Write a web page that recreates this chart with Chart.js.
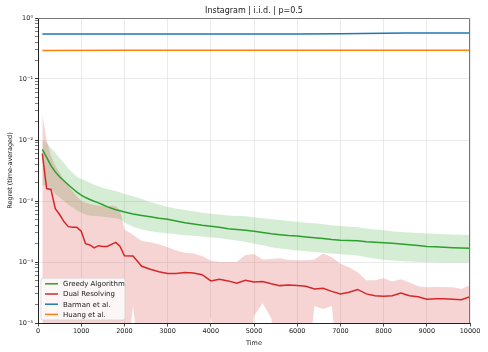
<!DOCTYPE html>
<html>
<head>
<meta charset="utf-8">
<script src="https://cdn.jsdelivr.net/npm/chart.js@4.4.1/dist/chart.umd.min.js"></script>
<style>
  html, body { margin: 0; padding: 0; background: #fff; }
  #wrap { width: 488px; height: 352px; position: relative; }
</style>
</head>
<body>
<div id="wrap"><canvas id="chart"></canvas></div>
<script>
// time steps (shared by greedy / dual series)
const times = [100, 200, 300, 400, 500, 600, 700, 800, 900, 1000,
  1100, 1200, 1300, 1400, 1500, 1600, 1700, 1800, 1900, 2000,
  2200, 2400, 2600, 2800, 3000, 3200, 3400, 3600, 3800, 4000,
  4200, 4400, 4600, 4800, 5000, 5200, 5400, 5600, 5800, 6000,
  6200, 6400, 6600, 6800, 7000, 7200, 7400, 7600, 7800, 8000,
  8200, 8400, 8600, 8800, 9000, 9200, 9400, 9600, 9800, 10000];

const greedy = [7.0e-3, 5.2e-3, 3.8e-3, 3.0e-3, 2.5e-3, 2.15e-3, 1.85e-3, 1.6e-3, 1.4e-3, 1.25e-3,
  1.14e-3, 1.06e-3, 9.9e-4, 9.3e-4, 8.7e-4, 8.1e-4, 7.6e-4, 7.2e-4, 6.9e-4, 6.6e-4,
  6.1e-4, 5.8e-4, 5.5e-4, 5.2e-4, 5.0e-4, 4.7e-4, 4.4e-4, 4.2e-4, 4.0e-4, 3.85e-4,
  3.7e-4, 3.5e-4, 3.4e-4, 3.3e-4, 3.2e-4, 3.05e-4, 2.9e-4, 2.8e-4, 2.72e-4, 2.67e-4,
  2.58e-4, 2.5e-4, 2.42e-4, 2.34e-4, 2.28e-4, 2.25e-4, 2.22e-4, 2.15e-4, 2.1e-4, 2.06e-4,
  2.02e-4, 1.98e-4, 1.92e-4, 1.86e-4, 1.8e-4, 1.77e-4, 1.74e-4, 1.72e-4, 1.7e-4, 1.68e-4];
const greedyHi = [1.0e-2, 9.0e-3, 7.3e-3, 6.2e-3, 5.0e-3, 4.2e-3, 3.4e-3, 2.9e-3, 2.5e-3, 2.3e-3,
  2.15e-3, 2.0e-3, 1.85e-3, 1.75e-3, 1.65e-3, 1.58e-3, 1.52e-3, 1.46e-3, 1.38e-3, 1.3e-3,
  1.2e-3, 1.08e-3, 9.6e-4, 8.8e-4, 8.0e-4, 7.5e-4, 7.1e-4, 6.8e-4, 6.4e-4, 6.2e-4,
  6.0e-4, 5.8e-4, 5.7e-4, 5.6e-4, 5.4e-4, 5.2e-4, 5.0e-4, 4.9e-4, 4.7e-4, 4.55e-4,
  4.4e-4, 4.3e-4, 4.15e-4, 4.0e-4, 3.9e-4, 3.8e-4, 3.7e-4, 3.55e-4, 3.4e-4, 3.3e-4,
  3.2e-4, 3.1e-4, 3.05e-4, 2.98e-4, 2.93e-4, 2.9e-4, 2.85e-4, 2.82e-4, 2.8e-4, 2.78e-4];
const greedyLo = [1.8e-3, 1.8e-3, 1.6e-3, 1.3e-3, 1.15e-3, 1.0e-3, 8.8e-4, 7.8e-4, 7.0e-4, 6.4e-4,
  6.0e-4, 5.8e-4, 5.7e-4, 5.6e-4, 5.5e-4, 5.4e-4, 5.3e-4, 5.2e-4, 5.0e-4, 4.5e-4,
  3.8e-4, 3.4e-4, 3.2e-4, 3.05e-4, 2.95e-4, 2.85e-4, 2.75e-4, 2.7e-4, 2.62e-4, 2.55e-4,
  2.45e-4, 2.35e-4, 2.25e-4, 2.15e-4, 2.0e-4, 1.88e-4, 1.75e-4, 1.67e-4, 1.6e-4, 1.55e-4,
  1.5e-4, 1.46e-4, 1.42e-4, 1.38e-4, 1.34e-4, 1.31e-4, 1.28e-4, 1.2e-4, 1.13e-4, 1.09e-4,
  1.06e-4, 1.04e-4, 1.02e-4, 1.0e-4, 9.9e-5, 9.9e-5, 9.8e-5, 9.8e-5, 9.8e-5, 9.8e-5];

const dual = [6.0e-3, 1.6e-3, 1.55e-3, 7.5e-4, 6.0e-4, 4.6e-4, 3.8e-4, 3.7e-4, 3.7e-4, 3.2e-4,
  2.0e-4, 1.9e-4, 1.7e-4, 1.85e-4, 1.8e-4, 1.8e-4, 1.95e-4, 2.1e-4, 1.8e-4, 1.26e-4,
  1.25e-4, 8.5e-5, 7.6e-5, 6.9e-5, 6.5e-5, 6.5e-5, 6.7e-5, 6.6e-5, 6.2e-5, 4.9e-5,
  5.2e-5, 4.9e-5, 4.5e-5, 5.0e-5, 4.7e-5, 4.8e-5, 4.4e-5, 4.1e-5, 4.2e-5, 4.1e-5,
  4.0e-5, 3.6e-5, 3.7e-5, 3.3e-5, 3.0e-5, 3.2e-5, 3.55e-5, 3.0e-5, 2.8e-5, 2.75e-5,
  2.8e-5, 3.1e-5, 2.8e-5, 2.7e-5, 2.45e-5, 2.5e-5, 2.5e-5, 2.45e-5, 2.4e-5, 2.7e-5];
const dualHi = [2.6e-2, 1.0e-2, 5.5e-3, 3.8e-3, 2.9e-3, 2.2e-3, 1.8e-3, 1.45e-3, 1.2e-3, 1.0e-3,
  9.4e-4, 9.0e-4, 8.6e-4, 8.4e-4, 8.2e-4, 8.0e-4, 8.4e-4, 8.2e-4, 7.0e-4, 3.4e-4,
  2.8e-4, 2.2e-4, 2.1e-4, 1.95e-4, 1.75e-4, 1.55e-4, 1.42e-4, 1.38e-4, 1.25e-4, 1.05e-4,
  1.0e-4, 1.0e-4, 1.0e-4, 1.3e-4, 1.35e-4, 1.1e-4, 1.12e-4, 1.15e-4, 1.08e-4, 1.07e-4,
  1.07e-4, 1.1e-4, 1.38e-4, 1.2e-4, 9.4e-5, 8.2e-5, 6.8e-5, 5.0e-5, 5.0e-5, 5.4e-5,
  4.8e-5, 5.2e-5, 4.6e-5, 4.0e-5, 3.85e-5, 3.9e-5, 3.9e-5, 3.85e-5, 3.6e-5, 4.2e-5];
// lower edge mostly falls below the axis (1e-6 = off the plot)
const dualLo = [1e-6, 1e-6, 1e-6, 1e-6, 1e-6, 1e-6, 1e-6, 1e-6, 1e-6, 1e-6,
  1e-6, 1e-6, 1e-6, 1e-6, 1e-6, 1e-6, 1e-6, 1e-6, 1e-6, 1e-6,
  1.9e-5, 1e-6, 1e-6, 1e-6, 1e-6, 1e-6, 1e-6, 1e-6, 1e-6, 1.3e-5,
  1e-6, 1e-6, 1e-6, 1e-6, 1.3e-5, 2.1e-5, 1.2e-5, 1e-6, 1e-6, 1e-6,
  1e-6, 1.9e-5, 1.7e-5, 1.9e-5, 1e-6, 1e-6, 1e-6, 1e-6, 1e-6, 1e-6,
  1e-6, 1e-6, 1e-6, 1e-6, 1e-6, 1e-6, 1e-6, 1e-6, 1e-6, 1e-6];

const barmanTimes = [100, 2000, 4000, 6000, 7000, 8000, 8500, 10000];
const barman = [0.545, 0.548, 0.547, 0.547, 0.55, 0.56, 0.568, 0.57];
const huangTimes = [100, 2000, 4000, 6000, 8000, 10000];
const huang = [0.292, 0.297, 0.296, 0.296, 0.296, 0.296];

const xTicks = [0, 1000, 2000, 3000, 4000, 5000, 6000, 7000, 8000, 9000, 10000];
const yMajorTicks = [1e-5, 1e-4, 1e-3, 1e-2, 1e-1, 1];
const titleText = 'Instagram | i.i.d. | p=0.5';

const pts = (xs, ys) => xs.map((x, i) => ({ x: x, y: ys[i] }));

const SUP = { '-': '\u207B', '0': '\u2070', '1': '\u00B9', '2': '\u00B2', '3': '\u00B3', '4': '\u2074', '5': '\u2075' };
const powLabel = v => '10' + String(Math.round(Math.log10(v))).split('').map(c => SUP[c]).join('');

const FONT = 'DejaVu Sans';
const TXT = '#1a1a1a';

// title centred over the plot area (matplotlib style)
const plotTitle = {
  id: 'plotTitle',
  afterDraw(chart) {
    const { ctx, chartArea: a } = chart;
    ctx.save();
    ctx.font = `8px "${FONT}"`;
    ctx.fillStyle = TXT;
    ctx.textAlign = 'center';
    ctx.textBaseline = 'middle';
    ctx.fillText(titleText, (a.left + a.right) / 2, a.top - 7);
    ctx.restore();
  }
};

// legend in the lower-left corner of the plot area
const legendBox = {
  id: 'legendBox',
  afterDraw(chart) {
    const { ctx, chartArea } = chart;
    const items = chart.data.datasets.filter(d => d.inLegend);
    const w = 84, rowH = 10.2, h = 42;
    const x0 = chartArea.left + 3, y0 = chartArea.bottom - 3 - h;
    ctx.save();
    ctx.beginPath();
    ctx.roundRect(x0, y0, w, h, 2);
    ctx.fillStyle = 'rgba(255,255,255,0.8)';
    ctx.fill();
    ctx.strokeStyle = '#d0d0d0';
    ctx.lineWidth = 0.8;
    ctx.stroke();
    ctx.font = `7px "${FONT}"`;
    ctx.textBaseline = 'middle';
    items.forEach((d, i) => {
      const y = y0 + 5.8 + i * rowH;
      ctx.strokeStyle = d.borderColor;
      ctx.lineWidth = 1.5;
      ctx.beginPath();
      ctx.moveTo(x0 + 4, y);
      ctx.lineTo(x0 + 17, y);
      ctx.stroke();
      ctx.fillStyle = TXT;
      ctx.fillText(d.label, x0 + 22, y + 0.5);
    });
    ctx.restore();
  }
};

// top and right spines
const frame = {
  id: 'frame',
  afterDraw(chart) {
    const { ctx, chartArea: a } = chart;
    ctx.save();
    ctx.strokeStyle = '#777';
    ctx.lineWidth = 1;
    ctx.beginPath();
    ctx.moveTo(a.left, a.top + 0.5);
    ctx.lineTo(a.right - 0.5, a.top + 0.5);
    ctx.lineTo(a.right - 0.5, a.bottom);
    ctx.stroke();
    ctx.restore();
  }
};

const band = (data, color, order) => ({
  data: data, borderWidth: 0, pointRadius: 0, backgroundColor: color, order: order
});
const line = (label, data, color, order) => ({
  label: label, data: data, borderColor: color, backgroundColor: color,
  borderWidth: 1.5, pointRadius: 0, fill: false, order: order, inLegend: true
});

new Chart(document.getElementById('chart'), {
  type: 'line',
  data: {
    datasets: [
      Object.assign(band(pts(times, greedyHi), 'rgba(44,160,44,0.2)', 11), { fill: '+1' }),
      Object.assign(band(pts(times, greedyLo), 'transparent', 11), { fill: false }),
      Object.assign(band(pts(times, dualHi), 'rgba(214,39,40,0.2)', 10), { fill: '+1' }),
      Object.assign(band(pts(times, dualLo), 'transparent', 10), { fill: false }),
      line('Greedy Algorithm', pts(times, greedy), '#2ca02c', 4),
      line('Dual Resolving', pts(times, dual), '#d62728', 3),
      line('Barman et al.', pts(barmanTimes, barman), '#1f77b4', 2),
      line('Huang et al.', pts(huangTimes, huang), '#ff7f0e', 1)
    ]
  },
  options: {
    responsive: true,
    maintainAspectRatio: false,
    animation: false,
    layout: { padding: { left: 0, right: 18, top: 18, bottom: 0 } },
    elements: { line: { tension: 0 } },
    plugins: {
      legend: { display: false },
      tooltip: { enabled: false },
      title: { display: false }
    },
    scales: {
      x: {
        type: 'linear',
        min: 0,
        max: 10000,
        afterBuildTicks: s => { s.ticks = xTicks.map(v => ({ value: v })); },
        afterFit: s => { s.height = 29; },
        ticks: {
          autoSkip: false, maxRotation: 0, padding: 1, color: TXT,
          font: { family: FONT, size: 6.5 },
          callback: v => String(v)
        },
        grid: { color: '#e6e6e6', lineWidth: 0.8, tickLength: 3.5, tickColor: '#222' },
        border: { color: '#222', width: 1 },
        title: {
          display: true, text: 'Time', color: TXT,
          font: { family: FONT, size: 6.5 }, padding: { top: 0, bottom: 5 }
        }
      },
      y: {
        type: 'logarithmic',
        min: 1e-5,
        max: 1,
        afterBuildTicks: s => {
          const t = [];
          yMajorTicks.forEach(m => {
            t.push({ value: m, major: true });
            if (m < 1) for (let k = 2; k <= 9; k++) t.push({ value: m * k, major: false });
          });
          s.ticks = t;
        },
        afterFit: s => { s.width = 38; },
        ticks: {
          autoSkip: false, padding: 2, color: TXT,
          font: { family: FONT, size: 6.5 },
          callback: (v, i, ticks) => ticks[i].major ? powLabel(v) : ''
        },
        grid: {
          color: c => (c.tick && c.tick.major) ? '#e6e6e6' : 'rgba(0,0,0,0)',
          lineWidth: 0.8,
          tickLength: 3,
          tickColor: '#222',
          tickWidth: c => (c.tick && c.tick.major) ? 0.9 : 0.6
        },
        border: { color: '#222', width: 1 },
        title: {
          display: true, text: 'Regret (time-averaged)', color: TXT,
          font: { family: FONT, size: 6.5 }, padding: { top: 6, bottom: 0 }
        }
      }
    }
  },
  plugins: [legendBox, frame, plotTitle]
});
</script>
</body>
</html>
